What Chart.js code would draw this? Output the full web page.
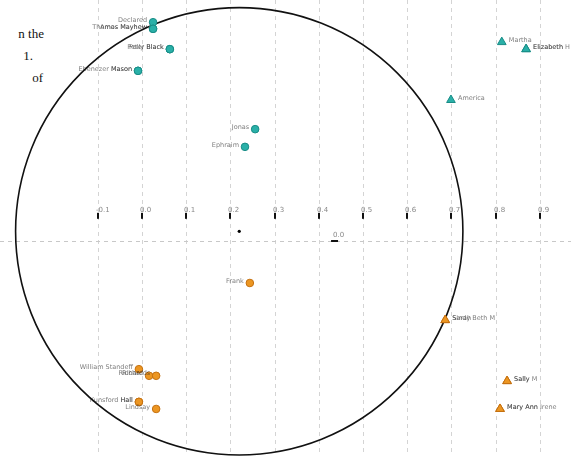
<!DOCTYPE html>
<html lang="en">
  <head>
    <meta charset="UTF-8" />
    <title>Document</title>
    <script src="https://cdn.jsdelivr.net/npm/chart.js"></script>
    <style>
      body { margin: 0; background: #fff; overflow: hidden; }
      .wrap { position: relative; width: 571px; height: 456px; }
      canvas { position: absolute; left: 0; top: 0; }
      .side { position: absolute; font-family: "Liberation Serif", serif; font-size: 13px; color: #111; white-space: nowrap; }
    </style>
  </head>
  <body>
    <div class="wrap">
      <div class="side" style="right: 527px; top: 26px">n the</div>
      <div class="side" style="right: 538px; top: 48px">1.</div>
      <div class="side" style="right: 528px; top: 70px">of</div>
      <canvas id="myChart" width="571" height="456"></canvas>
    </div>

    <script>
      "use strict";
      // tick labels along the x axis
      const xTicks = [-0.1, 0.0, 0.1, 0.2, 0.3, 0.4, 0.5, 0.6, 0.7, 0.8, 0.9];
      const xTickLabels = ["-0.1", "0.0", "0.1", "0.2", "0.3", "0.4", "0.5", "0.6", "0.7", "0.8", "0.9"];
      const yTicks = [0.0];
      const yTickLabels = ["0.0"];

      // group 1 - teal circles (labels on the left)
      const tealCircleNames = ["Declared", "Thomas Mayhew", "Amos Mayhew", "Polly Black", "Peter Black", "Ebenezer Mason", "Mason", "Jonas", "Ephraim"];
      const tealCircleX = [0.025, 0.025, 0.025, 0.063, 0.063, -0.009, -0.009, 0.256, 0.233];
      const tealCircleY = [0.495, 0.48, 0.48, 0.434, 0.434, 0.385, 0.385, 0.253, 0.213];

      // group 2 - teal triangles (labels on the right)
      const tealTriNames = ["Martha", "Elizabeth H", "Elizabeth", "America"];
      const tealTriX = [0.814, 0.869, 0.869, 0.699];
      const tealTriY = [0.45, 0.434, 0.434, 0.319];

      // group 3 - orange circles
      const orangeCircleNames = ["Frank", "William Standeff", "Richard", "Richards", "Kunsford Hall", "Hall", "Lindsay"];
      const orangeCircleX = [0.244, -0.007, 0.016, 0.032, -0.007, -0.007, 0.032];
      const orangeCircleY = [-0.095, -0.29, -0.305, -0.305, -0.364, -0.364, -0.38];

      // group 4 - orange triangles
      const orangeTriNames = ["Sindy Beth M", "Sarah", "Sally M", "Sally", "Mary Ann Irene", "Mary Ann"];
      const orangeTriX = [0.686, 0.686, 0.826, 0.826, 0.81, 0.81];
      const orangeTriY = [-0.179, -0.179, -0.317, -0.317, -0.38, -0.38];

      // reference circle around the centre point
      const circleCenter = [0.22, 0.022];
      const circleRadius = 0.506;
      const tickRowY = 0.066;
      const yAxisX = 0.43;

      const toPts = (xs, ys) => xs.map((x, i) => ({ x: x, y: ys[i] }));

      const teal = "rgb(42,176,168)";
      const tealEdge = "rgb(24,140,134)";
      const orange = "rgb(236,150,34)";
      const orangeEdge = "rgb(196,112,16)";

      const backdrop = {
        id: "backdrop",
        beforeDatasetsDraw(chart) {
          const c = chart.ctx;
          const xs = chart.scales.x;
          const ys = chart.scales.y;
          const top = chart.chartArea.top;
          const bottom = chart.chartArea.bottom;
          c.save();
          // dashed vertical grid
          c.strokeStyle = "#d4d4d4";
          c.lineWidth = 1;
          c.setLineDash([4, 4]);
          xTicks.forEach((t) => {
            const px = Math.round(xs.getPixelForValue(t)) + 0.5;
            c.beginPath();
            c.moveTo(px, top);
            c.lineTo(px, bottom);
            c.stroke();
          });
          // dashed zero line
          c.strokeStyle = "#c8c8c8";
          const y0 = Math.round(ys.getPixelForValue(0)) + 0.5;
          c.beginPath();
          c.moveTo(chart.chartArea.left, y0);
          c.lineTo(chart.chartArea.right, y0);
          c.stroke();
          c.setLineDash([]);

          // tick marks and labels for x
          const rowPx = ys.getPixelForValue(tickRowY);
          c.font = "7px 'DejaVu Sans'";
          c.textBaseline = "bottom";
          c.textAlign = "left";
          xTicks.forEach((t, i) => {
            const px = Math.round(xs.getPixelForValue(t));
            c.fillStyle = "#111";
            c.fillRect(px - 1, rowPx + 1, 2, 6);
            c.fillStyle = "#888";
            c.fillText(xTickLabels[i], px - 2, rowPx + 2);
          });
          // y tick
          const ax = xs.getPixelForValue(yAxisX);
          yTicks.forEach((t, i) => {
            const py = Math.round(ys.getPixelForValue(t));
            c.fillStyle = "#111";
            c.fillRect(ax - 1, py - 1, 7, 2);
            c.fillStyle = "#888";
            c.fillText(yTickLabels[i], ax + 1, py - 2);
          });

          // circle
          const cx = xs.getPixelForValue(circleCenter[0]);
          const cy = ys.getPixelForValue(circleCenter[1]);
          const r = xs.getPixelForValue(circleCenter[0] + circleRadius) - cx;
          c.strokeStyle = "#111";
          c.lineWidth = 1.6;
          c.beginPath();
          c.arc(cx, cy, r, 0, Math.PI * 2);
          c.stroke();
          c.fillStyle = "#000";
          c.beginPath();
          c.arc(cx, cy, 1.6, 0, Math.PI * 2);
          c.fill();
          c.restore();
        },
      };

      const pointLabels = {
        id: "pointLabels",
        afterDatasetsDraw(chart) {
          const c = chart.ctx;
          c.save();
          c.font = "6.5px 'DejaVu Sans'";
          c.textBaseline = "middle";
          c.fillStyle = "rgba(30,30,30,0.6)";
          chart.data.datasets.forEach((ds, di) => {
            const meta = chart.getDatasetMeta(di);
            const right = ds.pointStyle === "triangle";
            c.textAlign = right ? "left" : "right";
            meta.data.forEach((el, i) => {
              const off = right ? 7 : -6;
              c.fillText(ds.names[i], el.x + off, el.y - 2);
            });
          });
          c.restore();
        },
      };

      const ctx = document.getElementById("myChart").getContext("2d");
      new Chart(ctx, {
        type: "scatter",
        data: {
          datasets: [
            {
              data: toPts(tealCircleX, tealCircleY),
              names: tealCircleNames,
              pointStyle: "circle",
              radius: 3.8,
              backgroundColor: teal,
              borderColor: tealEdge,
              borderWidth: 1,
            },
            {
              data: toPts(tealTriX, tealTriY),
              names: tealTriNames,
              pointStyle: "triangle",
              radius: 5,
              backgroundColor: teal,
              borderColor: tealEdge,
              borderWidth: 1,
            },
            {
              data: toPts(orangeCircleX, orangeCircleY),
              names: orangeCircleNames,
              pointStyle: "circle",
              radius: 3.8,
              backgroundColor: orange,
              borderColor: orangeEdge,
              borderWidth: 1,
            },
            {
              data: toPts(orangeTriX, orangeTriY),
              names: orangeTriNames,
              pointStyle: "triangle",
              radius: 5,
              backgroundColor: orange,
              borderColor: orangeEdge,
              borderWidth: 1,
            },
          ],
        },
        options: {
          responsive: false,
          animation: false,
          layout: { padding: 0, autoPadding: false },
          scales: {
            x: { type: "linear", display: false, min: -142 / 442, max: 429 / 442 },
            y: { type: "linear", display: false, min: -215 / 442, max: 241 / 442 },
          },
          plugins: {
            legend: { display: false },
            tooltip: { enabled: false },
          },
        },
        plugins: [backdrop, pointLabels],
      });
    </script>
  </body>
</html>
